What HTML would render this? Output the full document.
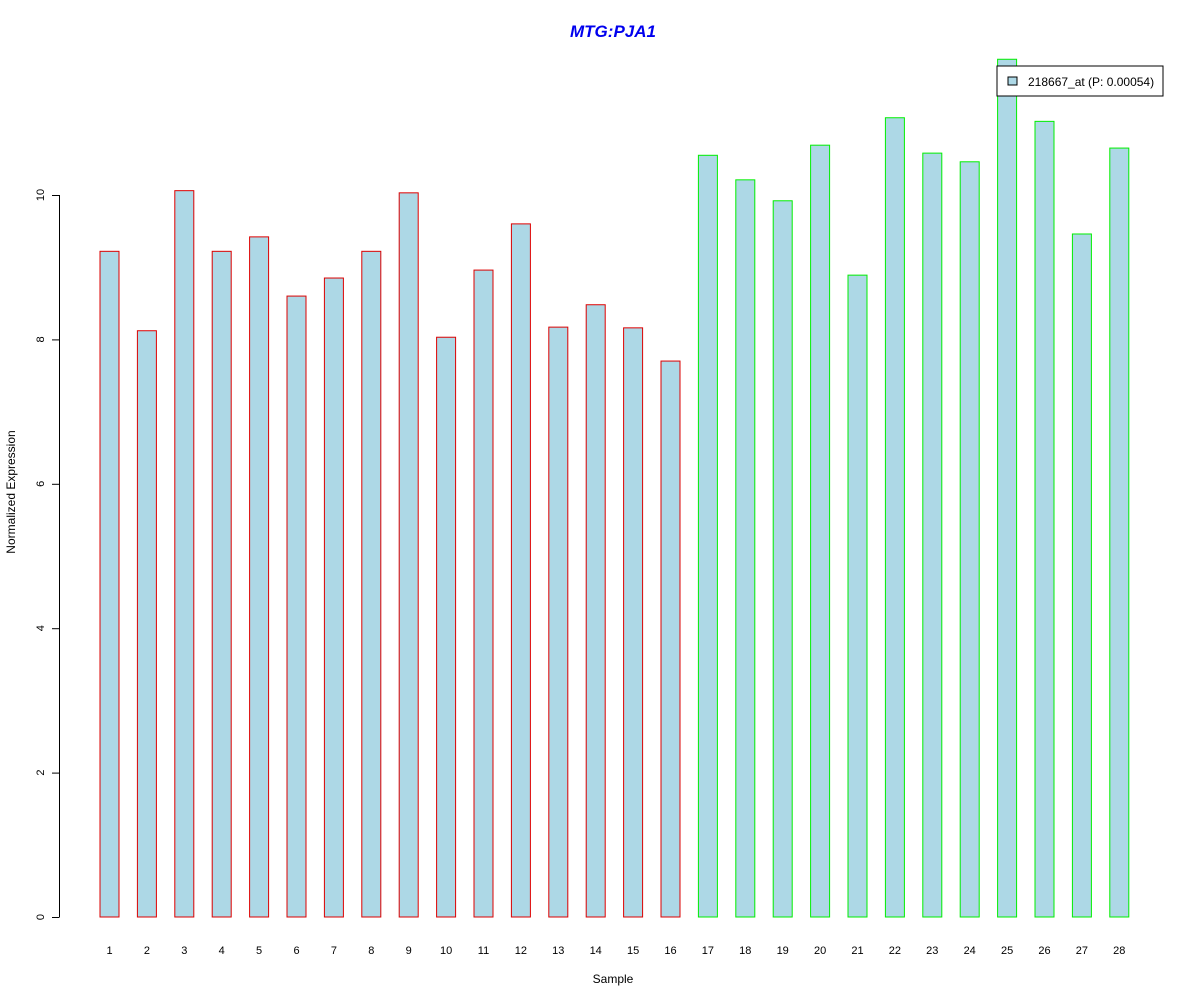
<!DOCTYPE html>
<html><head><meta charset="utf-8"><style>
body{margin:0;background:#fff;}
svg{font-family:"Liberation Sans",Arial,sans-serif;display:block}
</style></head><body>
<svg id="chart" width="1200" height="1000" xmlns="http://www.w3.org/2000/svg">
<rect width="1200" height="1000" fill="#fff"/>
<text x="613" y="37" text-anchor="middle" font-size="17" font-weight="bold" font-style="italic" fill="#0000ee">MTG:PJA1</text>
<text x="613" y="983" text-anchor="middle" font-size="12">Sample</text>
<text transform="translate(15,492) rotate(-90)" text-anchor="middle" font-size="12">Normalized Expression</text>
<g id="yaxis"></g>
<g id="bars"></g>
<g id="xlabels"></g>
<g>
<rect x="997" y="66" width="166" height="30" fill="#fff" stroke="#000" stroke-width="1"/>
<rect x="1008" y="77" width="9" height="8" fill="#add8e6" stroke="#000" stroke-width="1"/>
<text x="1028" y="86" font-size="12">218667_at (P: 0.00054)</text>
</g>
</svg>
<script>
const categories = ["1","2","3","4","5","6","7","8","9","10","11","12","13","14","15","16","17","18","19","20","21","22","23","24","25","26","27","28"];
const values = [9.22,8.12,10.06,9.22,9.42,8.60,8.85,9.22,10.03,8.03,8.96,9.60,8.17,8.48,8.16,7.70,10.55,10.21,9.92,10.69,8.89,11.07,10.58,10.46,11.88,11.02,9.46,10.65];
const groups = [0,0,0,0,0,0,0,0,0,0,0,0,0,0,0,0,1,1,1,1,1,1,1,1,1,1,1,1];
const yTicks = [0,2,4,6,8,10];
const NS="http://www.w3.org/2000/svg";
const y = v => 917 - v*72.2;
const x = i => 109.5 + i*37.4;
const groupColors=["#dd0000","#00ee00"];
function mk(tag,attrs,parent){const e=document.createElementNS(NS,tag);for(const k in attrs)e.setAttribute(k,attrs[k]);parent.appendChild(e);return e;}
const ya=document.getElementById('yaxis');
let l=mk('line',{x1:59.5,x2:59.5,y1:y(0),y2:y(10),stroke:'#000'},ya);


yTicks.forEach(t=>{
 const tk=mk('line',{x1:52,x2:59.5,y1:y(t)+0.5,y2:y(t)+0.5,stroke:'#000'},ya);
 
 
 const tx=mk('text',{transform:`translate(44,${y(t)}) rotate(-90)`,'text-anchor':'middle','font-size':11},ya);
 
 
 tx.textContent=t;
});
const bg=document.getElementById('bars'), xl=document.getElementById('xlabels');
values.forEach((v,i)=>{
 const r=mk('rect',{x:x(i)-9.5,y:y(v),width:19,height:y(0)-y(v),fill:'#add8e6',stroke:groupColors[groups[i]],'stroke-width':1},bg);
 
 
 const t=mk('text',{x:x(i),y:954,'text-anchor':'middle','font-size':11},xl);
 
 
 t.textContent=categories[i];
});
</script>
</body></html>
